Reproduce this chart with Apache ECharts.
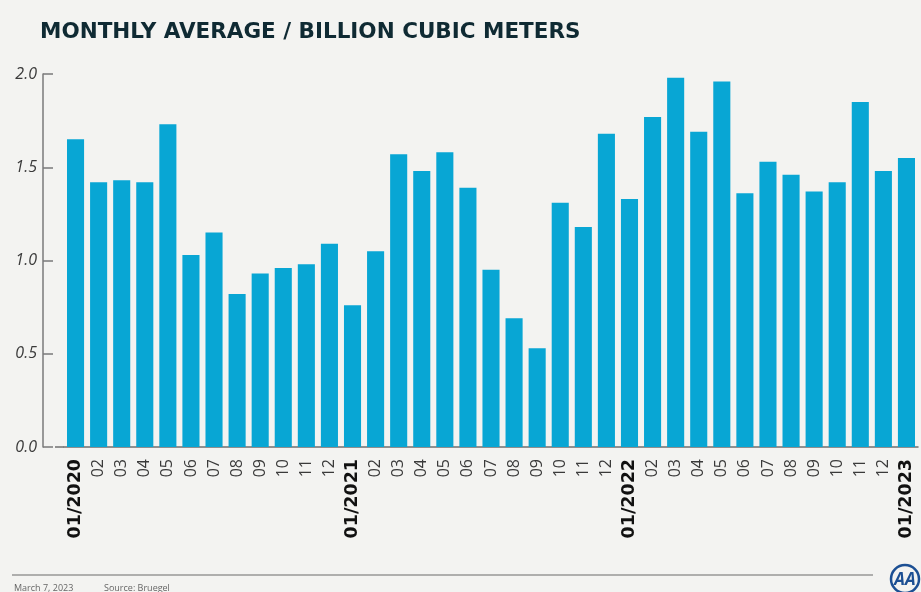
<!DOCTYPE html>
<html>
<head>
<meta charset="utf-8">
<script src="https://cdn.jsdelivr.net/npm/echarts@6/dist/echarts.min.js"></script>
<style>
  html, body { margin: 0; padding: 0; background: #f3f3f1; }
  #chart { width: 921px; height: 592px; }
</style>
</head>
<body>
<div id="chart"></div>
<script>
// Monthly average gas volumes, billion cubic meters
const months = [
  '01/2020','02','03','04','05','06','07','08','09','10','11','12',
  '01/2021','02','03','04','05','06','07','08','09','10','11','12',
  '01/2022','02','03','04','05','06','07','08','09','10','11','12',
  '01/2023'
];
const volumes = [
  1.65, 1.42, 1.43, 1.42, 1.73, 1.03, 1.15, 0.82, 0.93, 0.96, 0.98, 1.09,
  0.76, 1.05, 1.57, 1.48, 1.58, 1.39, 0.95, 0.69, 0.53, 1.31, 1.18, 1.68,
  1.33, 1.77, 1.98, 1.69, 1.96, 1.36, 1.53, 1.46, 1.37, 1.42, 1.85, 1.48,
  1.55
];
const yTicks = [0, 0.5, 1.0, 1.5, 2.0];

const chart = echarts.init(document.getElementById('chart'), null, { renderer: 'canvas' });

chart.setOption({
  backgroundColor: '#f3f3f1',
  animation: false,
  title: {
    text: 'MONTHLY AVERAGE / BILLION CUBIC METERS',
    left: 35,
    top: 16,
    textStyle: {
      fontFamily: 'DejaVu Sans',
      fontWeight: 'bold',
      fontSize: 21.5,
      color: '#0f2a33'
    }
  },
  grid: { left: 64, right: 3, top: 74, bottom: 145 },
  xAxis: {
    type: 'category',
    data: months,
    boundaryGap: true,
    axisLine: { lineStyle: { color: '#6f6f6f', width: 1.5 } },
    axisTick: { show: false },
    axisLabel: {
      rotate: 90,
      interval: 0,
      margin: 12,
      fontFamily: 'Open Sans',
      fontSize: 16,
      color: '#3a3a3a',
      formatter: v => v.includes('/') ? '{yr|' + v + '}' : v,
      rich: {
        yr: { fontFamily: 'DejaVu Sans', fontWeight: 'bold', fontSize: 17.5, color: '#111' }
      }
    }
  },
  yAxis: {
    type: 'value',
    min: yTicks[0],
    max: yTicks[yTicks.length - 1],
    interval: 0.5,
    offset: 21,
    axisLine: { show: true, lineStyle: { color: '#7a7a7a', width: 1.5 } },
    axisTick: { show: true, inside: true, length: 10, lineStyle: { color: '#7a7a7a', width: 1.5 } },
    splitLine: { show: false },
    axisLabel: {
      margin: 6,
      fontFamily: 'Open Sans',
      fontStyle: 'italic',
      fontSize: 16,
      color: '#3a3a3a',
      formatter: v => v.toFixed(1)
    }
  },
  series: [{
    type: 'bar',
    data: volumes,
    barWidth: '74%',
    itemStyle: { color: '#08a6d4' }
  }],
  graphic: [
    // baseline stub between the value axis and the first category
    { type: 'line', shape: { x1: 55, y1: 447, x2: 64, y2: 447 }, style: { stroke: '#6f6f6f', lineWidth: 1.5 } },
    // footer rule and credits
    { type: 'line', shape: { x1: 12, y1: 575, x2: 873, y2: 575 }, style: { stroke: '#6a6a6a', lineWidth: 1.2 } },
    { type: 'text', left: 14, top: 584, style: { text: 'March 7, 2023', fontSize: 9, fill: '#666', fontFamily: 'Open Sans' } },
    { type: 'text', left: 104, top: 584, style: { text: 'Source: Bruegel', fontSize: 9, fill: '#666', fontFamily: 'Open Sans' } },
    // agency mark
    { type: 'circle', shape: { cx: 905, cy: 579, r: 14 }, style: { fill: 'none', stroke: '#1c4f93', lineWidth: 2.5 } },
    { type: 'text', x: 905, y: 580, style: { text: 'AA', fontSize: 17, fontWeight: 'bold', fontStyle: 'italic', fill: '#1c4f93', fontFamily: 'Open Sans', align: 'center', verticalAlign: 'middle' } }
  ]
});
</script>
</body>
</html>
